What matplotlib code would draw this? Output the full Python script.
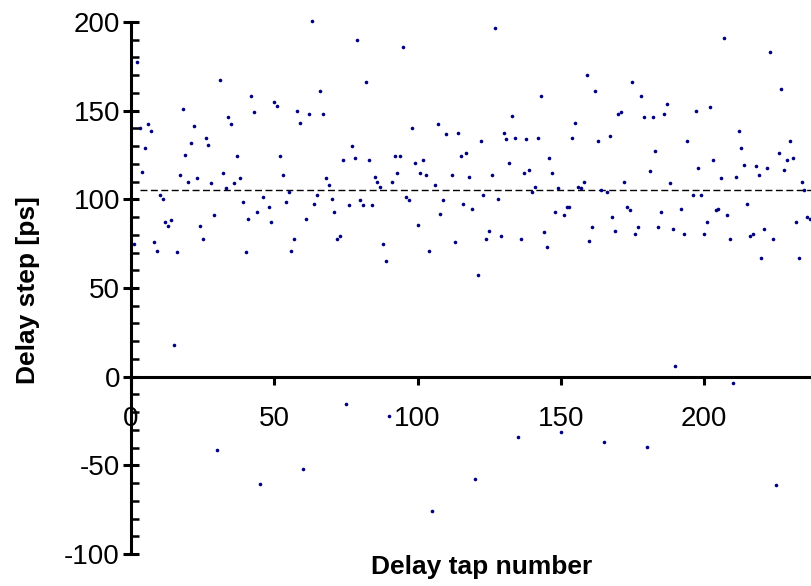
import matplotlib
matplotlib.use('Agg')
import matplotlib.pyplot as plt
from matplotlib.ticker import MultipleLocator

plt.rcParams['font.family'] = ['Liberation Sans', 'DejaVu Sans']
plt.rcParams['axes.unicode_minus'] = False

tap = [1, 2, 3, 4, 5, 6, 7, 8, 9, 10, 11, 12, 13, 14, 15, 16, 17, 18, 19, 20,
       21, 22, 23, 24, 25, 26, 27, 28, 29, 30, 31, 32, 33, 34, 35, 36, 37, 38, 39, 40,
       41, 42, 43, 44, 45, 46, 48, 49, 50, 51, 52, 53, 54, 55, 56, 57, 58, 59, 60,
       61, 62, 63, 64, 65, 66, 67, 68, 69, 70, 71, 72, 73, 74, 75, 76, 77, 78, 79, 80,
       81, 82, 83, 84, 85, 86, 87, 88, 89, 90, 91, 92, 93, 94, 95, 96, 97, 98, 99, 100,
       101, 102, 103, 104, 105, 106, 107, 108, 109, 110, 112, 113, 114, 115, 116, 117, 118, 119, 120,
       121, 122, 123, 124, 125, 126, 127, 128, 129, 130, 131, 132, 133, 134, 135, 136, 137, 138, 139, 140,
       141, 142, 143, 144, 145, 146, 147, 148, 149, 150, 151, 152, 153, 154, 155, 156, 157, 158, 159, 160,
       161, 162, 163, 164, 165, 166, 167, 168, 169, 170, 171, 172, 173, 174, 175, 176, 177, 178, 179, 180,
       181, 182, 183, 184, 185, 186, 187, 188, 189, 190, 192, 193, 194, 196, 197, 198, 199, 200,
       201, 202, 203, 204, 205, 206, 207, 208, 209, 210, 211, 212, 213, 214, 215, 216, 217, 218, 219, 220,
       221, 222, 223, 224, 225, 226, 227, 228, 229, 230, 231, 232, 233, 234, 235, 236, 237]

step = [74.8, 177.6, 140.4, 115.6, 129.1, 142.3, 138.5, 75.8, 71.1, 102.4,
        100.4, 87.0, 85.2, 88.2, 17.7, 70.1, 113.7, 150.9, 125.2, 110.0,
        131.8, 141.4, 111.8, 85.2, 77.6, 134.8, 130.8, 109.0, 91.0, -41.4,
        167.1, 114.7, 106.2, 146.2, 142.3, 109.0, 124.2, 111.8, 98.5, 70.1,
        89.1, 158.5, 149.1, 92.9, -60.3, 101.5, 95.7, 87.0, 154.7, 152.8,
        124.2, 113.7, 98.5, 104.3, 71.1, 77.6, 150.0, 143.2, -51.9,
        89.1, 148.1, 200.4, 97.6, 102.4, 161.3, 148.1, 111.8, 108.1, 100.4,
        92.9, 77.6, 79.5, 122.4, -15.6, 96.6, 130.1, 123.3, 189.8, 99.4,
        96.6, 166.2, 122.4, 96.6, 112.8, 110.0, 107.1, 74.8, 65.4, -22.4,
        110.0, 124.2, 114.7, 124.2, 186.1, 101.5, 99.4, 140.4, 120.5, 85.3,
        114.7, 122.4, 113.7, 71.1, -75.6, 108.1, 142.3, 91.9, 99.4, 136.7,
        113.7, 75.8, 137.6, 124.2, 97.6, 126.1, 112.8, 94.7, -57.5,
        57.5, 132.9, 102.4, 77.6, 82.3, 113.7, 196.6, 100.4, 79.5, 137.6,
        133.8, 120.5, 147.2, 134.8, -33.8, 77.6, 114.7, 133.8, 116.7, 104.3,
        107.1, 134.8, 158.5, 81.4, 72.9, 123.3, 114.7, 92.9, 106.2, -31.0,
        91.0, 95.7, 95.7, 134.8, 143.2, 107.1, 106.2, 110.0, 169.9, 76.7,
        84.2, 161.3, 132.9, 105.3, -36.7, 104.3, 135.7, 90.0, 82.3, 148.1,
        149.1, 110.0, 95.7, 93.8, 166.2, 80.5, 84.2, 158.5, 146.2, -39.5,
        115.8, 146.2, 127.3, 84.2, 92.9, 148.1, 153.8, 109.0, 83.3, 6.2,
        94.7, 80.5, 132.9, 102.4, 150.0, 117.7, 102.4, 80.5,
        87.2, 151.9, 122.4, 93.8, 94.7, 111.8, 191.0, 91.0, 77.6, -3.4,
        112.8, 138.5, 129.1, 119.5, 97.6, 79.5, 80.5, 118.6, 113.7, 67.1,
        83.3, 117.7, 183.3, 77.6, -61.3, 126.1, 162.4, 116.7, 122.4, 132.9,
        123.3, 87.2, 67.1, 110.0, 105.3, 90.0, 89.1]

mean_step = 105.3
x_ticks = [0, 50, 100, 150, 200]
y_ticks = [-100, -50, 0, 50, 100, 150, 200]

fig = plt.figure(figsize=(8.11, 5.86), dpi=100)
ax = fig.add_axes([131 / 811, 32 / 586, 680 / 811, 532 / 586])
ax.set_xlim(0, 237.3)
ax.set_ylim(-100, 200)

ax.plot(tap, step, 'o', ms=2.6, color='#000080', mec='none', ls='none',
        zorder=3, clip_on=False)
ax.hlines(mean_step, 3, 237.3, colors='black', linestyles=(0, (5, 2.5)), lw=1.0)

for s in ['top', 'right']:
    ax.spines[s].set_visible(False)
ax.spines['bottom'].set_position(('data', 0))
ax.spines['bottom'].set_linewidth(2.2)
ax.spines['left'].set_linewidth(2.2)

ax.set_xticks(x_ticks)
ax.set_yticks(y_ticks)
ax.yaxis.set_minor_locator(MultipleLocator(10))
ax.tick_params(axis='y', which='major', direction='inout', length=12, width=2.2,
               labelsize=20, pad=2)
ax.tick_params(axis='y', which='minor', direction='in', length=6, width=1.8)
ax.tick_params(axis='x', which='major', direction='out', length=6, width=2.2,
               labelsize=20, pad=15)

fig.text(481.7 / 811, 1 - 574 / 586, 'Delay tap number', ha='center', va='baseline',
         fontsize=19, fontweight='bold')
fig.text(28 / 811, 1 - 290 / 586, 'Delay step [ps]', rotation=90, ha='center',
         va='center', fontsize=19, fontweight='bold')

fig.savefig('out.png', dpi=100)
